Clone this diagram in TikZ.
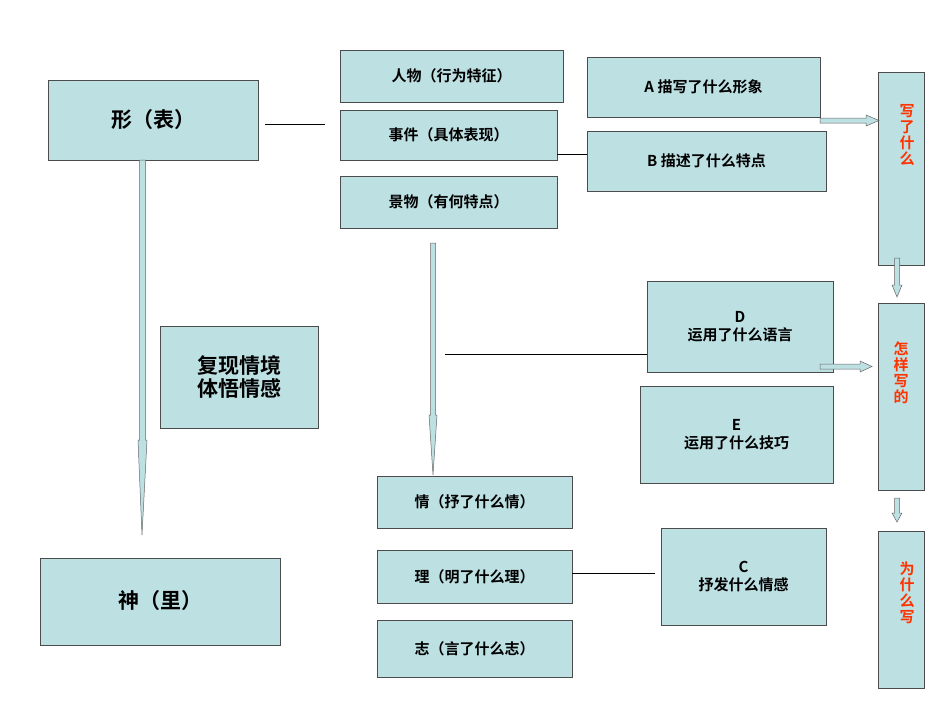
\documentclass[tikz,border=0pt]{standalone}
\usepackage{fontspec}
\setmainfont{Noto Sans CJK SC}[BoldFont={Noto Sans CJK SC Bold}]
\begin{document}
\begin{tikzpicture}[x=1pt,y=-1pt]
\definecolor{boxc}{HTML}{BDE0E3}
\definecolor{redt}{HTML}{FF3300}
\tikzset{bx/.style={draw=black!70,fill=boxc,line width=0.8pt},
 tx/.style={font=\bfseries\fontsize{15}{18}\selectfont,align=center},
 big/.style={font=\bfseries\fontsize{21}{27}\selectfont,align=center},
 rt/.style={font=\bfseries\fontsize{15}{16}\selectfont,text=redt,align=center},
 ln/.style={line width=0.5pt},
 barrow/.style={draw=black!60,fill=boxc,line width=0.5pt}}
\useasboundingbox (0,0) rectangle (950,713);
\newcommand{\bbox}[6]{\draw[bx] (#2,#3) rectangle (#4,#5) coordinate (#1-br); \node[tx] (#1) at ({(#2+#4)/2},{(#3+#5)/2}) {#6};}
% boxes
\draw[bx] (48,80) rectangle (258,160); \node[big] (xing) at (153,120) {形（表）};
\draw[bx] (40,558) rectangle (280,645); \node[big] (shen) at (160,601) {神（里）};
\draw[bx] (160,326) rectangle (318,428); \node[big] (fx) at (239,377) {复现情境\\[-4pt]体悟情感};
\bbox{rw}{340}{50}{563}{102}{人物（行为特征）}
\bbox{sj}{340}{110}{557}{160}{事件（具体表现）}
\bbox{jw}{340}{176}{557}{228}{景物（有何特点）}
\bbox{A}{587}{57}{820}{117}{A 描写了什么形象}
\bbox{B}{587}{131}{826}{191}{B 描述了什么特点}
\bbox{D}{647}{281}{833}{372}{D\\运用了什么语言}
\bbox{E}{640}{386}{833}{483}{E\\运用了什么技巧}
\bbox{C}{661}{528}{826}{625}{C\\抒发什么情感}
\bbox{q}{377}{476}{572}{528}{情（抒了什么情）}
\bbox{l}{377}{550}{572}{603}{理（明了什么理）}
\bbox{z}{377}{620}{572}{677}{志（言了什么志）}
\draw[bx] (878,72) rectangle (924,265); \node[rt] (w1) at (907,135) {写\\了\\什\\么};
\draw[bx] (878,303) rectangle (924,490); \node[rt] (w2) at (901,373) {怎\\样\\写\\的};
\draw[bx] (878,531) rectangle (924,688); \node[rt] (w3) at (907,593) {为\\什\\么\\写};
% lines
\coordinate (l1a) at (265,124); \coordinate (l1b) at (325,124);
\draw[ln] (l1a) -- (l1b);
\draw[ln] (557,154) -- (587,154);
\coordinate (dL) at (445,354);
\draw[ln] (dL) -- (647,354);
\draw[ln] (572,573) -- (655,573);
% block arrows
\draw[barrow] (139.5,160) -- (139.5,440) -- (138,440) -- (142,535) -- (147,440) -- (145.5,440) -- (145.5,160) -- cycle;
\draw[barrow] (430.5,243) -- (430.5,415) -- (429,415) -- (433,475) -- (437,415) -- (435.5,415) -- (435.5,243) -- cycle;
\draw[barrow] (820,118) -- (866,118) -- (866,115) -- (879,120.5) -- (866,126) -- (866,123) -- (820,123) -- cycle;
\draw[barrow] (820,364) -- (860,364) -- (860,361) -- (872,366.5) -- (860,372) -- (860,369) -- (820,369) -- cycle;
\draw[barrow] (894.5,258) -- (894.5,285) -- (892,285) -- (897,297) -- (902,285) -- (899.5,285) -- (899.5,258) -- cycle;
\draw[barrow] (894.5,498) -- (894.5,513) -- (892,513) -- (897,522) -- (902,513) -- (899.5,513) -- (899.5,498) -- cycle;
\end{tikzpicture}
\end{document}
